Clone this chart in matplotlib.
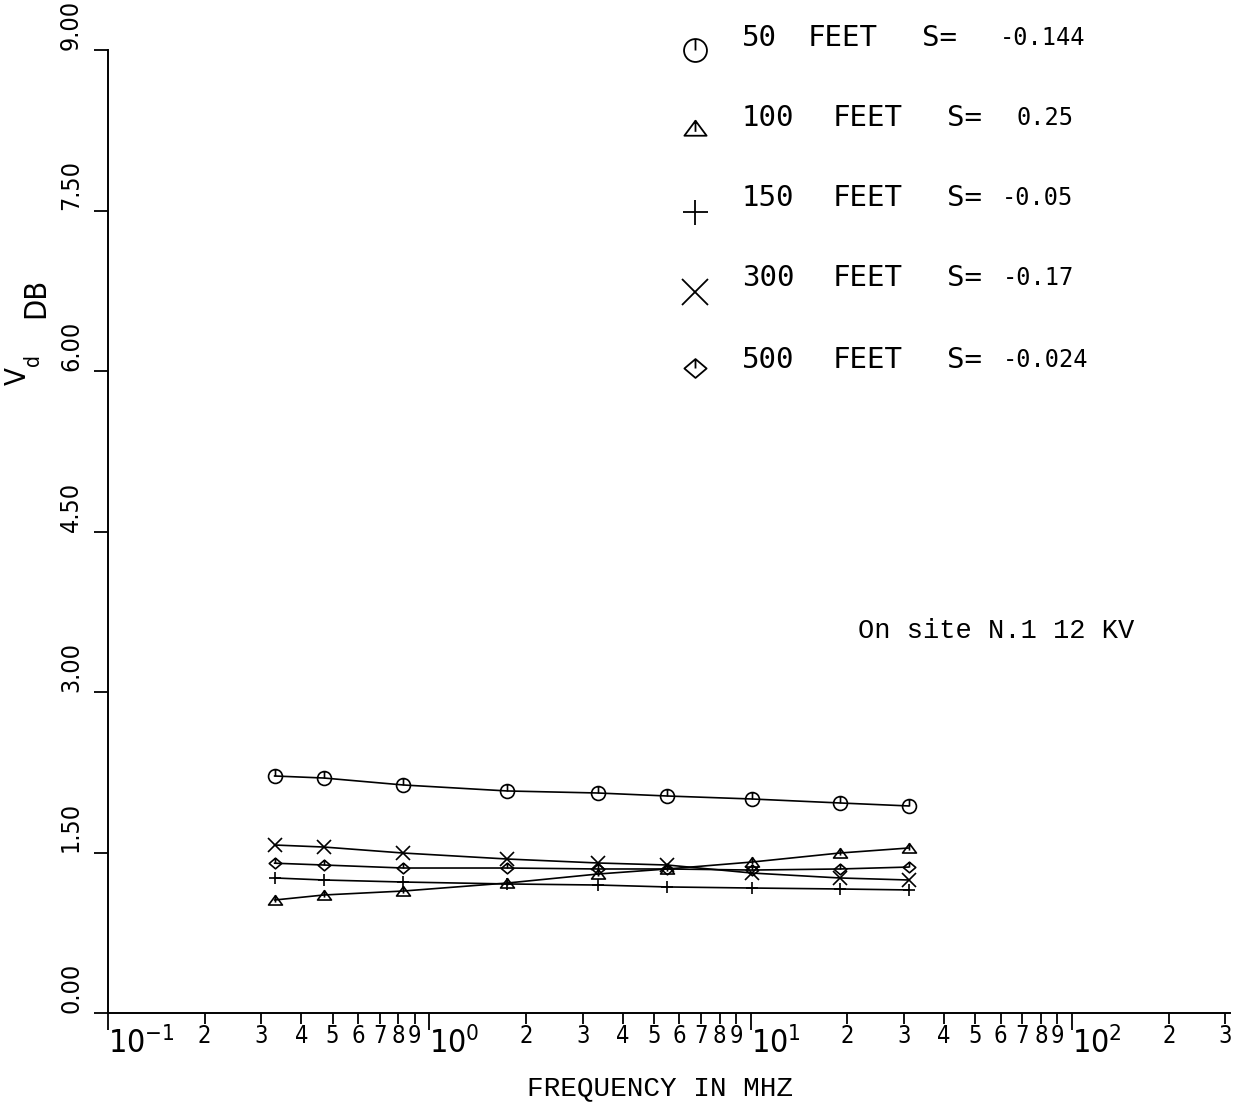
import matplotlib
matplotlib.use("Agg")
import matplotlib.pyplot as plt
from matplotlib.path import Path
from matplotlib import font_manager as fm
from matplotlib.font_manager import FontProperties

# ---------------- data ----------------
freq_mhz = [0.33, 0.47, 0.83, 1.75, 3.35, 5.5, 10.1, 18.9, 31.0]
vd_50ft = [2.215, 2.196, 2.131, 2.075, 2.056, 2.028, 2.000, 1.963, 1.935]
vd_100ft = [1.056, 1.103, 1.140, 1.215, 1.299, 1.346, 1.411, 1.495, 1.542]
vd_150ft = [1.262, 1.243, 1.224, 1.206, 1.196, 1.178, 1.168, 1.159, 1.150]
vd_300ft = [1.570, 1.551, 1.495, 1.439, 1.402, 1.383, 1.308, 1.262, 1.243]
vd_500ft = [1.400, 1.383, 1.355, 1.355, 1.346, 1.346, 1.336, 1.346, 1.364]

distances = ["50", "100", "150", "300", "500"]
slopes = ["-0.144", "0.25", "-0.05", "-0.17", "-0.024"]

y_ticks = [0.0, 1.5, 3.0, 4.5, 6.0, 7.5, 9.0]
y_tick_labels = ["0.00", "1.50", "3.00", "4.50", "6.00", "7.50", "9.00"]
x_major = [0.1, 1, 10, 100]
x_major_labels = [r"$\mathregular{10^{-1}}$", r"$\mathregular{10^{0}}$",
                  r"$\mathregular{10^{1}}$", r"$\mathregular{10^{2}}$"]
x_minor = [m * 10.0 ** e for e in (-1, 0, 1) for m in range(2, 10)] + [200, 300]
x_minor_labels = [str(m) for e in (-1, 0, 1) for m in range(2, 10)] + ["2", "3"]

# ---------------- fonts ----------------
names = {f.name for f in fm.fontManager.ttflist}
if "Liberation Sans Narrow" in names:
    narrow_family, narrow_stretch = "Liberation Sans Narrow", "normal"
elif any(f.name == "DejaVu Sans" and f.stretch == "condensed" for f in fm.fontManager.ttflist):
    narrow_family, narrow_stretch = "DejaVu Sans", "condensed"
else:
    narrow_family, narrow_stretch = "DejaVu Sans", "normal"


def narrow(size):
    return FontProperties(family=narrow_family, stretch=narrow_stretch, size=size)


mono = "DejaVu Sans Mono"
typewriter = "Liberation Mono"

# ---------------- markers ----------------
def stem_marker(verts_closed, stem):
    base = Path(verts_closed + [verts_closed[0]],
                [Path.MOVETO] + [Path.LINETO] * (len(verts_closed) - 1) + [Path.CLOSEPOLY])
    st = Path(stem, [Path.MOVETO, Path.LINETO])
    return Path.make_compound_path(base, st)


circle_m = Path.make_compound_path(Path.unit_circle(),
                                   Path([(0, 0), (0, 1)], [Path.MOVETO, Path.LINETO]))
tri_m = stem_marker([(-1, -0.65), (1, -0.65), (0, 0.7)], [(0, -0.3), (0, 0.7)])
dia_m = stem_marker([(0, 0.85), (1, 0), (0, -0.85), (-1, 0)], [(0, 0), (0, 0.85)])

series = [vd_50ft, vd_100ft, vd_150ft, vd_300ft, vd_500ft]
markers = [circle_m, tri_m, "+", "x", dia_m]
data_ms = [10, 10, 8, 10, 9]
leg_ms = [16.5, 16, 18, 19, 16]

# ---------------- figure ----------------
W, H = 1237, 1111
fig = plt.figure(figsize=(W / 100, H / 100), dpi=100)
fig.patch.set_facecolor("white")

ax_l, ax_r, ax_t, ax_b = 108, 1230, 50, 1013
ax = fig.add_axes([ax_l / W, (H - ax_b) / H, (ax_r - ax_l) / W, (ax_b - ax_t) / H])
ax.set_xscale("log")
ax.set_xlim(0.1, 310)
ax.set_ylim(0, 9)
for s in ("top", "right"):
    ax.spines[s].set_visible(False)
for s in ("left", "bottom"):
    ax.spines[s].set_linewidth(1.4)
    ax.spines[s].set_color("black")

for vals, m, ms in zip(series, markers, data_ms):
    ax.plot(freq_mhz, vals, color="black", lw=1.2, marker=m, ms=ms,
            mfc="none", mec="black", mew=1.2, clip_on=False)

# x ticks
ax.set_xticks(x_major)
ax.set_xticklabels(x_major_labels, fontproperties=narrow(23), ha="left")
ax.set_xticks(x_minor, minor=True)
ax.set_xticklabels(x_minor_labels, minor=True, fontproperties=narrow(17))
ax.tick_params(axis="x", which="major", direction="out", length=12, width=1.3, pad=-2)
ax.tick_params(axis="x", which="minor", direction="out", length=8, width=1.3, pad=0)

# y ticks
ax.set_yticks(y_ticks)
ax.set_yticklabels(y_tick_labels, fontproperties=narrow(18))
ax.tick_params(axis="y", which="major", direction="out", length=10, width=1.3, pad=8)
for lbl in ax.get_yticklabels():
    lbl.set_rotation(90)
    lbl.set_va("bottom")
    lbl.set_ha("right")

# x label
ax.set_xlabel("FREQUENCY IN MHZ", family=typewriter, fontsize=20)
ax.xaxis.set_label_coords((660 - ax_l) / (ax_r - ax_l), -(1088 - ax_b) / (ax_b - ax_t))
ax.xaxis.label.set_va("center")

# ---------------- overlay (pixel coordinates) ----------------
ov = fig.add_axes([0, 0, 1, 1])
ov.set_xlim(0, W)
ov.set_ylim(H, 0)
ov.axis("off")

# y axis label
ov.text(18, 376, "V", rotation=90, ha="center", va="center", fontproperties=narrow(21))
ov.text(33, 360, "d", rotation=90, ha="center", va="center", fontproperties=narrow(15))
ov.text(36, 298, "DB", rotation=90, ha="center", va="center", fontproperties=narrow(22))

# legend
mk_y = [50, 128, 212, 292, 368]
txt_y = [38, 118, 198, 278, 360]
feet_x = [808, 833, 833, 833, 833]
seq_x = [922, 947, 947, 947, 947]
val_x = [1000, 1017, 1002, 1003, 1003]
for i in range(5):
    ov.plot([695], [mk_y[i]], marker=markers[i], ms=leg_ms[i], mfc="none",
            mec="black", mew=1.3, ls="none")
    ov.text(742, txt_y[i], distances[i], family=mono, fontsize=21, va="center", ha="left")
    ov.text(feet_x[i], txt_y[i], "FEET", family=mono, fontsize=21, va="center", ha="left")
    ov.text(seq_x[i], txt_y[i], "S=", family=mono, fontsize=21, va="center", ha="left")
    ov.text(val_x[i], txt_y[i], slopes[i], family=mono, fontsize=17, va="center", ha="left")

ov.text(858, 631, "On site N.1 12 KV", family=typewriter, fontsize=19.5,
        va="center", ha="left")

fig.savefig("out.png", dpi=100, facecolor="white")
